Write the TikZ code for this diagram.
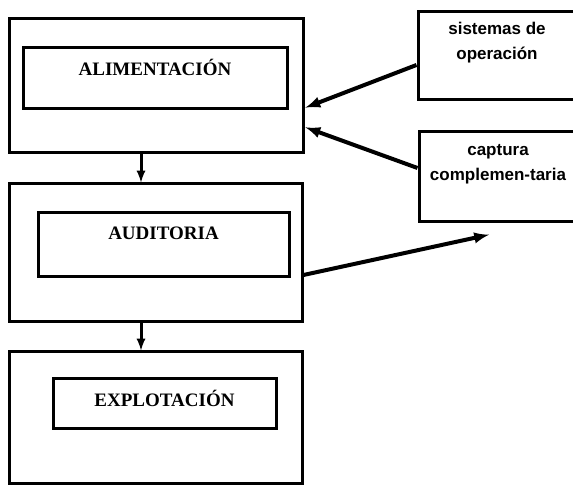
\documentclass[tikz,border=0pt]{standalone}
\usepackage{fontspec}
\setmainfont{Liberation Serif}
\newfontfamily\boxfont{Liberation Sans}
\usepackage{tikz}
\usetikzlibrary{arrows,calc,positioning}
\tikzset{outer box/.style={
    draw, line width=3pt,
    minimum width=#1,
    inner sep=0pt
  },
  inner box/.style={
    draw, line width=3pt,
    inner sep=0pt
  },
  side box/.style={
    draw, line width=3pt,
    minimum width=202pt, inner sep=0pt
  },
  box label/.style={
    font=\fontsize{19}{22}\selectfont\bfseries
  },
  side label/.style={
    font=\boxfont\fontsize{17}{25}\selectfont\bfseries,
    align=center, inner sep=0pt
  },
  link/.style={-latex, line width=4pt, shorten >=1pt},
  down link/.style={-latex, line width=3pt}
}

\begin{document}
\begin{tikzpicture}[x=1pt,y=1pt]
    \useasboundingbox (0,0) rectangle (573,486);
    % main blocks
    \node[outer box=294pt, minimum height=134pt] (alim) at (156,400) {};
    \node[inner box, minimum width=264pt, minimum height=61pt] (alimin) at (155,407.5) {};
    \node[box label] (alimtxt) at (155,419) {ALIMENTACIÓN};

    \node[outer box=293pt, minimum height=138pt] (aud) at (155.5,233) {};
    \node[inner box, minimum width=251pt, minimum height=64pt] (audin) at (163.5,241) {};
    \node[box label] (audtxt) at (163.5,253) {AUDITORIA};

    \node[outer box=293pt, minimum height=132pt] (expl) at (155.5,68) {};
    \node[inner box, minimum width=223pt, minimum height=50pt] (explin) at (164.5,82) {};
    \node[box label] (expltxt) at (164.5,88) {EXPLOTACIÓN};

    % side blocks, cut by the right edge
    \node[side box, minimum height=88pt] (sis) at (519,430) {};
    \node[side label] (sistxt) at (497,443.5) {sistemas de\\operación};
    \node[side box, minimum height=90pt] (cap) at (520,309) {};
    \node[side label] (captxt) at (498,321.5) {captura\\complemen-taria};

    % connections
    \draw[down link] ([xshift=-15pt]alim.south) -- ([xshift=-15pt]alim.south |- aud.north);
    \draw[down link] ([xshift=-14.5pt]aud.south) -- ([xshift=-14.5pt]aud.south |- expl.north);
    \draw[link] ([yshift=-9pt]sis.west) -- ([yshift=-22pt]alim.east);
    \draw[link] ([yshift=9pt]cap.west) -- ([yshift=-41pt]alim.east);
    \coordinate (capin) at ([xshift=-30pt,yshift=-11pt]cap.south);
    \draw[link] ([yshift=-22pt]aud.east) -- (capin);
\end{tikzpicture}
\end{document}
